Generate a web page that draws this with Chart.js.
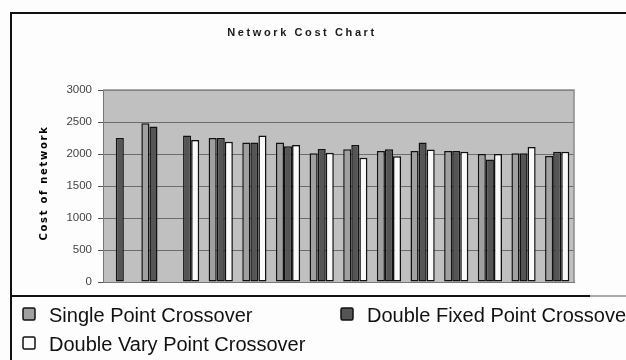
<!DOCTYPE html>
<html>
<head>
<meta charset="utf-8">
<title>Network Cost Chart</title>
<script src="https://cdn.jsdelivr.net/npm/chart.js@4/dist/chart.umd.min.js"></script>
<style>
  html, body { margin: 0; padding: 0; background: #fdfdfd; }
  #wrap { width: 626px; height: 360px; }
</style>
</head>
<body>
<div id="wrap"><canvas id="c" width="626" height="360"></canvas></div>
<script>
// Runs 1..14 along the x axis (not labelled on the chart)
const categories = ['1', '2', '3', '4', '5', '6', '7', '8', '9', '10', '11', '12', '13', '14'];

// Network cost per run for each crossover operator (null = no result)
const singlePoint = [null, 2480, null, 2250, 2180, 2180, 2010, 2075, 2045, 2045, 2045, 2000, 2010, 1970];
const doubleFixed = [2250, 2430, 2290, 2250, 2180, 2120, 2080, 2140, 2075, 2180, 2045, 1915, 2010, 2035];
const doubleVary  = [null, null, 2220, 2190, 2290, 2140, 2020, 1940, 1965, 2070, 2035, 2000, 2110, 2035];

const seriesNames = ['Single Point Crossover', 'Double Fixed Point Crossover', 'Double Vary Point Crossover'];
const yTickValues = [0, 500, 1000, 1500, 2000, 2500, 3000];

const chartTitle = 'Network Cost Chart';
const yAxisTitle = 'Cost of network';

Chart.defaults.font.family = '"Liberation Sans", Arial, sans-serif';

// Frame, plot background and border, titles and legend
const framePlugin = {
  id: 'frame',
  beforeDraw(chart) {
    const ctx = chart.ctx;
    const a = chart.chartArea;
    ctx.save();
    ctx.fillStyle = '#fdfdfd';
    ctx.fillRect(0, 0, chart.width, chart.height);
    // plot area fill
    ctx.fillStyle = '#c0c0c0';
    ctx.fillRect(a.left, a.top, a.right - a.left, a.bottom - a.top);
    // outer frame
    ctx.strokeStyle = '#111';
    ctx.lineWidth = 2;
    ctx.beginPath();
    ctx.moveTo(11, chart.height);
    ctx.lineTo(11, 13);
    ctx.lineTo(chart.width, 13);
    ctx.stroke();
    // separator above the legend
    ctx.beginPath();
    ctx.moveTo(10, 296);
    ctx.lineTo(590, 296);
    ctx.stroke();
    ctx.strokeStyle = '#aaa';
    ctx.beginPath();
    ctx.moveTo(590, 296);
    ctx.lineTo(chart.width, 296);
    ctx.stroke();
    ctx.restore();
  },
  afterDraw(chart) {
    const ctx = chart.ctx;
    const a = chart.chartArea;
    ctx.save();
    // plot area outline (top and right)
    ctx.strokeStyle = '#8a8a8a';
    ctx.lineWidth = 1.5;
    ctx.beginPath();
    ctx.moveTo(a.left, a.top);
    ctx.lineTo(a.right, a.top);
    ctx.lineTo(a.right, a.bottom);
    ctx.stroke();

    // chart title
    ctx.fillStyle = '#1a1a1a';
    ctx.font = 'bold 11px "Liberation Sans", Arial, sans-serif';
    ctx.letterSpacing = '2.6px';
    ctx.textAlign = 'center';
    ctx.textBaseline = 'middle';
    ctx.fillText(chartTitle, 302, 33);

    // vertical axis title
    ctx.save();
    ctx.translate(44, 183);
    ctx.rotate(-Math.PI / 2);
    ctx.font = 'bold 10px "DejaVu Sans", sans-serif';
    ctx.letterSpacing = '1.7px';
    ctx.fillStyle = '#000';
    ctx.fillText(yAxisTitle, 0, 0);
    ctx.restore();

    // legend
    ctx.letterSpacing = '0px';
    const slots = [[23, 308], [341, 308], [23, 337]];
    chart.data.datasets.forEach((ds, i) => {
      const [x, y] = slots[i];
      ctx.fillStyle = ds.backgroundColor;
      ctx.strokeStyle = '#111';
      ctx.lineWidth = 1.5;
      ctx.beginPath();
      ctx.roundRect(x, y, 12, 12, 1.5);
      ctx.fill();
      ctx.stroke();
      ctx.fillStyle = '#111';
      ctx.font = '20px "Liberation Sans", Arial, sans-serif';
      ctx.textAlign = 'left';
      ctx.textBaseline = 'alphabetic';
      ctx.fillText(ds.label, x + 26, y + 14);
    });
    ctx.restore();
  }
};

const barStyle = { borderColor: '#111', borderWidth: 1.5, borderSkipped: false };

new Chart(document.getElementById('c'), {
  type: 'bar',
  data: {
    labels: categories,
    datasets: [
      Object.assign({ label: seriesNames[0], data: singlePoint, backgroundColor: '#a0a0a0' }, barStyle),
      Object.assign({ label: seriesNames[1], data: doubleFixed, backgroundColor: '#555555' }, barStyle),
      Object.assign({ label: seriesNames[2], data: doubleVary, backgroundColor: '#fafafa' }, barStyle)
    ]
  },
  options: {
    responsive: false,
    animation: false,
    events: [],
    layout: { padding: { left: 0, right: 52, top: 90, bottom: 78 } },
    datasets: { bar: { categoryPercentage: 0.72, barPercentage: 1.0 } },
    plugins: {
      legend: { display: false },
      title: { display: false },
      tooltip: { enabled: false }
    },
    scales: {
      x: {
        grid: { display: false },
        ticks: { display: false },
        border: { color: '#777', width: 1 },
        afterFit(scale) { scale.height = 0; }
      },
      y: {
        min: yTickValues[0],
        max: yTickValues[yTickValues.length - 1],
        afterBuildTicks(scale) { scale.ticks = yTickValues.map(v => ({ value: v })); },
        ticks: {
          color: '#444',
          font: { size: 11.5 },
          padding: 6,
          callback: (v) => String(v)
        },
        grid: { color: '#6c6c6c', lineWidth: 1, tickLength: 5, tickColor: '#555' },
        border: { color: '#777', width: 1 },
        afterFit(scale) { scale.width = 103; }
      }
    }
  },
  plugins: [framePlugin]
});
</script>
</body>
</html>
